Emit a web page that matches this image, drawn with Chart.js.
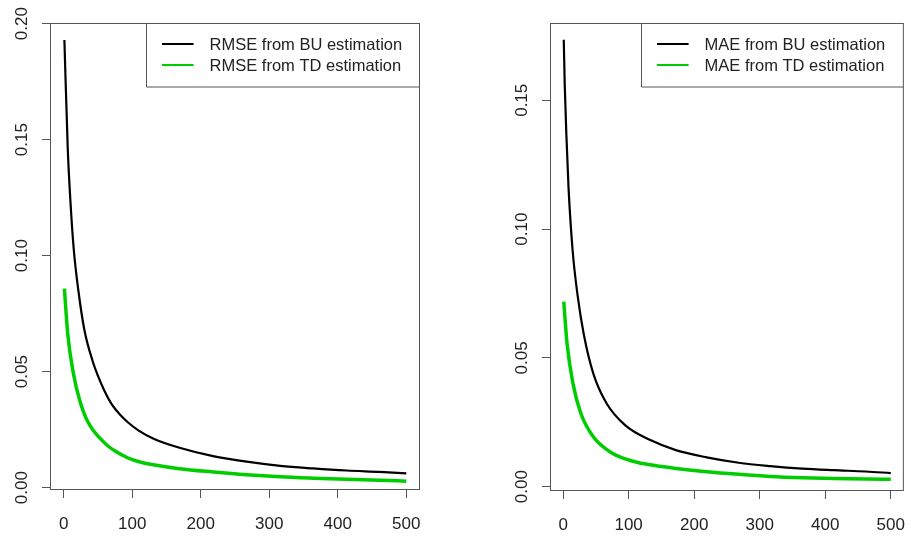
<!DOCTYPE html>
<html><head><meta charset="utf-8">
<script src="https://cdn.jsdelivr.net/npm/chart.js@4/dist/chart.umd.min.js"></script>
<style>
html,body{margin:0;padding:0;background:#fff;width:921px;height:536px;overflow:hidden}
canvas{position:absolute;top:0}
#c1{left:0}
#c2{left:460px}
</style></head><body>
<canvas id="c1" width="460" height="536"></canvas>
<canvas id="c2" width="461" height="536"></canvas>
<script>
// ---- data ----
const xTicks = [0, 100, 200, 300, 400, 500];
const yTicksLeft = [0, 0.05, 0.10, 0.15, 0.20];
const yTicksRight = [0, 0.05, 0.10, 0.15];

const rmseBuN   = [1, 5.8, 9.7, 14.6, 21.4, 30.2, 42.3, 50, 59.4, 70, 83.7, 94, 110, 132, 169, 218, 267, 316, 364, 413, 461, 500];
const rmseBuVal = [0.193, 0.147, 0.124, 0.103, 0.085, 0.068, 0.0545, 0.0482, 0.0418, 0.0360, 0.0310, 0.0281, 0.0245, 0.0210, 0.0172, 0.0136, 0.0112, 0.0094, 0.0083, 0.0074, 0.0068, 0.0062];
const rmseTdN   = [1, 6, 14, 23, 35, 60, 75, 94, 110, 133, 169, 218, 267, 316, 364, 413, 461, 500];
const rmseTdVal = [0.0858, 0.0660, 0.0495, 0.0380, 0.0285, 0.0192, 0.0158, 0.0128, 0.0112, 0.0098, 0.0082, 0.0068, 0.0056, 0.0047, 0.0041, 0.0036, 0.0032, 0.0028];

const maeBuN   = [1, 2.5, 5, 8.3, 14.6, 22, 31.7, 46, 66, 95, 134, 172, 219, 268, 316, 365, 413, 462, 500];
const maeBuVal = [0.1735, 0.156, 0.1365, 0.116, 0.0915, 0.0745, 0.0590, 0.0440, 0.0325, 0.0238, 0.0180, 0.0142, 0.0114, 0.0093, 0.0080, 0.0070, 0.0064, 0.0059, 0.0053];
const maeTdN   = [1, 6, 15, 27, 46, 75, 95, 114, 140, 172, 219, 268, 316, 365, 413, 462, 500];
const maeTdVal = [0.0718, 0.0556, 0.0401, 0.0285, 0.0194, 0.0130, 0.0108, 0.0094, 0.0082, 0.0071, 0.0058, 0.0048, 0.0040, 0.0035, 0.0032, 0.0030, 0.0029];

const leftLabels  = ['RMSE from BU estimation', 'RMSE from TD estimation'];
const rightLabels = ['MAE from BU estimation', 'MAE from TD estimation'];

// ---- drawing ----
const FONT = '"Liberation Sans", Arial, Helvetica, sans-serif';
const BLACK = '#000000', GREEN = '#00CD00';

const rPlot = {
  id: 'rPlot',
  afterDraw(chart) {
    const {ctx, chartArea: a} = chart;
    ctx.save();
    ctx.font = '16.5px ' + FONT;
    const items = chart.data.datasets.map(d => ({text: d.label, color: d.borderColor}));
    const tw = Math.max(...items.map(it => ctx.measureText(it.text).width));
    const w = 16 + 31.6 + 16 + tw + 18.3;
    const lx = Math.round(a.right - w), ly = a.top, lh = 63.5;
    ctx.fillStyle = '#fff';
    ctx.fillRect(lx, ly, a.right - lx, lh);
    ctx.strokeStyle = '#555';
    ctx.lineWidth = 1;
    ctx.beginPath();
    ctx.moveTo(lx + 0.5, ly);
    ctx.lineTo(lx + 0.5, ly + lh + 0.5);
    ctx.lineTo(a.right, ly + lh + 0.5);
    ctx.stroke();
    items.forEach((it, i) => {
      const y = ly + 21 + i * 21;
      ctx.strokeStyle = it.color;
      ctx.lineWidth = 2;
      ctx.beginPath();
      ctx.moveTo(lx + 16, y);
      ctx.lineTo(lx + 47.6, y);
      ctx.stroke();
      ctx.fillStyle = '#222';
      ctx.textBaseline = 'middle';
      ctx.textAlign = 'left';
      ctx.fillText(it.text, lx + 63.6, y + 1);
    });
    ctx.strokeStyle = '#555';
    ctx.lineWidth = 1;
    ctx.strokeRect(a.left + 0.5, a.top + 0.5, a.right - a.left - 1, a.bottom - a.top - 1);
    ctx.restore();
  }
};

function series(label, xs, ys, color, width) {
  return {
    label, borderColor: color, borderWidth: width, pointRadius: 0,
    cubicInterpolationMode: 'monotone', fill: false,
    data: xs.map((x, i) => ({x, y: ys[i]}))
  };
}

function makeChart(id, datasets, yTicks, yMin, yMax, yWidth, padRight, xHeight) {
  return new Chart(document.getElementById(id), {
    type: 'line',
    data: {datasets},
    options: {
      responsive: false, animation: false, devicePixelRatio: 1,
      layout: {padding: {top: 23, right: padRight, left: 0, bottom: 0}},
      plugins: {legend: {display: false}, tooltip: {enabled: false}},
      scales: {
        x: {
          type: 'linear', min: -20, max: 520,
          afterBuildTicks: s => { s.ticks = xTicks.map(v => ({value: v})); },
          afterFit: s => { s.height = xHeight; },
          border: {display: false},
          grid: {drawOnChartArea: false, drawTicks: true, tickLength: 8, color: '#555'},
          ticks: {font: {size: 17, family: FONT}, color: '#222', padding: 16, maxRotation: 0, autoSkip: false,
                  callback: v => String(v)}
        },
        y: {
          type: 'linear', min: yMin, max: yMax,
          afterBuildTicks: s => { s.ticks = yTicks.map(v => ({value: v})); },
          afterFit: s => { s.width = yWidth; },
          border: {display: false},
          grid: {drawOnChartArea: false, drawTicks: true, tickLength: 8, color: '#555'},
          ticks: {font: {size: 17, family: FONT}, color: '#222', padding: 3, minRotation: 90, maxRotation: 90,
                  crossAlign: 'center', autoSkip: false, callback: v => v.toFixed(2)}
        }
      }
    },
    plugins: [rPlot]
  });
}

makeChart('c1', [
  series(leftLabels[0], rmseBuN, rmseBuVal, BLACK, 2.2),
  series(leftLabels[1], rmseTdN, rmseTdVal, GREEN, 3.5)
], yTicksLeft, -0.001, 0.2003, 50, 40, 46);

makeChart('c2', [
  series(rightLabels[0], maeBuN, maeBuVal, BLACK, 2.2),
  series(rightLabels[1], maeTdN, maeTdVal, GREEN, 3.5)
], yTicksRight, -0.00167, 0.18, 90, 2, 45);
</script>
</body></html>
